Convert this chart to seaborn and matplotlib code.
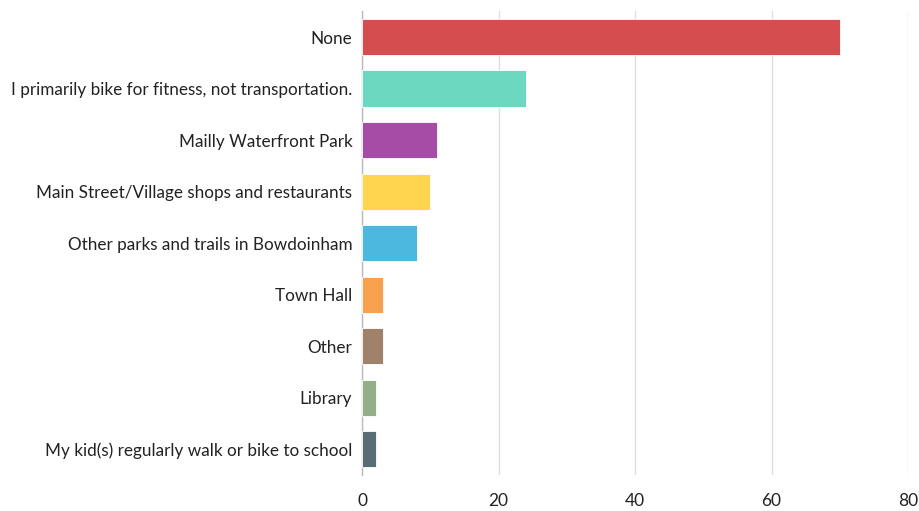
import pandas as pd
import matplotlib.pyplot as plt
import seaborn as sns

categories = [
    "None",
    "I primarily bike for fitness, not transportation.",
    "Mailly Waterfront Park",
    "Main Street/Village shops and restaurants",
    "Other parks and trails in Bowdoinham",
    "Town Hall",
    "Other",
    "Library",
    "My kid(s) regularly walk or bike to school",
]
counts = [70, 24, 11, 10, 8, 3, 3, 2, 2]
colors = ["#D64D4F", "#6DD8C0", "#A64CA6", "#FFD44F", "#4CB8E0",
          "#F7A04E", "#A0826A", "#94AF88", "#586E74"]

sns.set_theme(style="white")
plt.rcParams['font.family'] = ['Lato', 'DejaVu Sans']

df = pd.DataFrame({"cat": categories, "n": counts})

fig = plt.figure(figsize=(9.19, 5.11), dpi=100)
ax = fig.add_axes([0.394, 0.0705, 0.594, 0.9075])

sns.barplot(data=df, x="n", y="cat", hue="cat", palette=colors, legend=False,
            saturation=1, width=0.7, edgecolor="#ffffff", linewidth=0.6,
            ax=ax, zorder=3)

ax.set_xlim(0, 80)
ax.set_xticks([0, 20, 40, 60, 80])
ax.grid(axis="x", color="#dddddd", linewidth=1, zorder=0)
for s in ["top", "right", "bottom"]:
    ax.spines[s].set_visible(False)
ax.spines["left"].set_color("#bbbbbb")
ax.spines["left"].set_linewidth(1)
ax.set_xlabel("")
ax.set_ylabel("")
ax.tick_params(axis="y", length=0, pad=7, labelsize=12.3, labelcolor="#222222")
ax.tick_params(axis="x", length=0, pad=13, labelsize=12.5, labelcolor="#222222")

plt.savefig("out.png", dpi=100)
